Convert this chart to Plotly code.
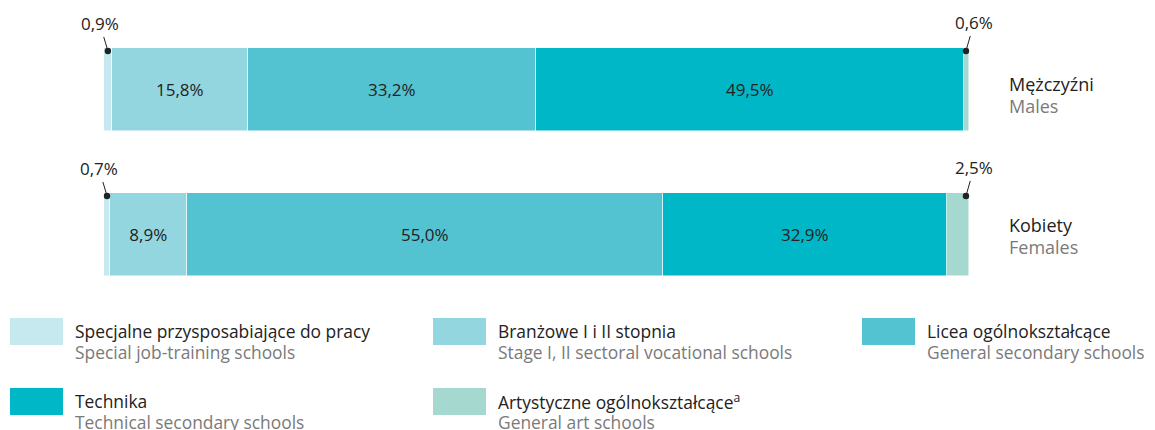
import plotly.graph_objects as go

# ---- data ----
groups_pl = ["Mężczyźni", "Kobiety"]
groups_en = ["Males", "Females"]
cat_pl = ["Specjalne przysposabiające do pracy", "Branżowe I i II stopnia",
          "Licea ogólnokształcące", "Technika", "Artystyczne ogólnokształcące<sup>a</sup>"]
cat_en = ["Special job-training schools", "Stage I, II sectoral vocational schools",
          "General secondary schools", "Technical secondary schools", "General art schools"]
males = [0.9, 15.8, 33.2, 49.5, 0.6]
females = [0.7, 8.9, 55.0, 32.9, 2.5]
colors = ["#c6e8ef", "#93d6df", "#54c3d1", "#00b7c7", "#a5d9cf"]

OFF = 8  # page body margin
W, H = 1155 - OFF, 430 - OFF
L, T = 104 - OFF, 17 - OFF
R = W - (969 - OFF)
B = H - (307 - OFF)
PW, PH = W - L - R, H - T - B
BAR_W = 0.572
ypos = [1, 0]  # Males top, Females bottom
FONT = "Open Sans"
DARK, GREY = "#222222", "#7a7a7a"


def fmt(v):
    return f"{v:.1f}".replace(".", ",") + "%"


def px2paper(px, py):
    # px, py are reference-page pixel coordinates
    return (px - OFF - L) / PW, (H - B - (py - OFF)) / PH


fig = go.Figure()
series = [males, females]
for i in range(len(cat_pl)):
    vals = [s[i] for s in series]
    texts = [fmt(v) if v >= 5 else "" for v in vals]
    fig.add_trace(go.Bar(
        x=vals, y=ypos, orientation="h", width=BAR_W,
        marker=dict(color=colors[i], line=dict(color="white", width=0.5)),
        text=texts, textposition="inside", insidetextanchor="middle",
        textfont=dict(color=DARK, size=17, family=FONT),
        hoverinfo="skip", showlegend=False,
    ))

annotations = []


def txt(px, py, text, color, size=18):
    x, y = px2paper(px, py)
    annotations.append(dict(
        x=x, y=y, xref="paper", yref="paper", xanchor="left", yanchor="middle",
        align="left", showarrow=False, text=text, borderpad=0,
        font=dict(size=size, color=color, family=FONT),
    ))


# small value callouts
for gi, s in enumerate(series):
    y_top = ypos[gi] + BAR_W / 2 - 0.02
    v0 = s[0]
    annotations.append(dict(
        x=v0 / 2, y=y_top, xref="x", yref="y", text=fmt(v0),
        showarrow=True, arrowhead=6, arrowsize=1.6, arrowwidth=1, arrowcolor=DARK,
        ax=-8, ay=-27, font=dict(size=17, color=DARK, family=FONT),
    ))
    vl = s[-1]
    annotations.append(dict(
        x=sum(s) - 0.35, y=y_top, xref="x", yref="y", text=fmt(vl),
        showarrow=True, arrowhead=6, arrowsize=1.6, arrowwidth=1, arrowcolor=DARK,
        ax=8, ay=-28, font=dict(size=17, color=DARK, family=FONT),
    ))

# group labels on the right
grp_y = [(84, 105.5), (225, 246.5)]
for gi in range(len(groups_pl)):
    txt(1008, grp_y[gi][0], groups_pl[gi], DARK)
    txt(1008, grp_y[gi][1], groups_en[gi], GREY)

# legend built from shapes + annotations
shapes = []
leg_pos = [(10, 318), (433, 318), (862, 318), (10, 388), (433, 388)]
sw_w, sw_h = 53, 27
for i, (lx, ly) in enumerate(leg_pos):
    x0, y0 = px2paper(lx, ly)
    x1, y1 = px2paper(lx + sw_w, ly + sw_h)
    shapes.append(dict(type="rect", xref="paper", yref="paper", x0=x0, x1=x1, y0=y1, y1=y0,
                       fillcolor=colors[i], line=dict(width=0)))
    txt(lx + 64, ly + 13, cat_pl[i], DARK, 17.4)
    txt(lx + 64, ly + 34, cat_en[i], GREY, 17.4)

fig.update_layout(
    width=W, height=H, barmode="stack",
    margin=dict(l=L, r=R, t=T, b=B, pad=0),
    paper_bgcolor="white", plot_bgcolor="white",
    xaxis=dict(range=[0, 100], visible=False, fixedrange=True),
    yaxis=dict(range=[-0.5, 1.5], visible=False, fixedrange=True),
    annotations=annotations, shapes=shapes,
    bargap=0,
)

fig.write_html("out.html")
